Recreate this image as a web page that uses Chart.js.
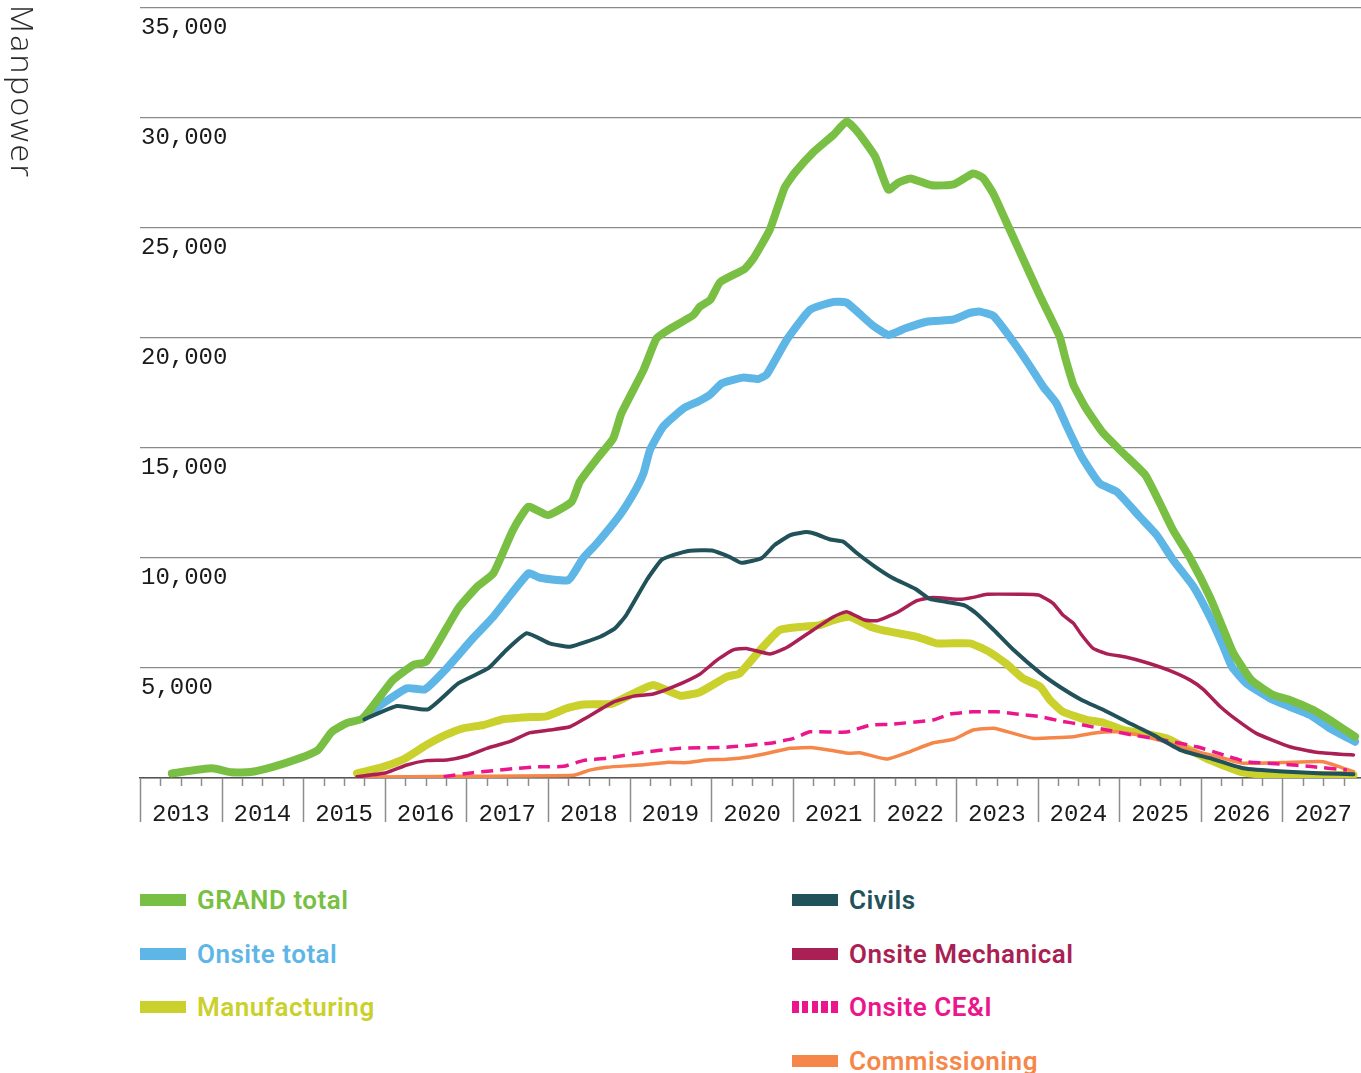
<!DOCTYPE html>
<html>
<head>
<meta charset="utf-8">
<script src="https://cdn.jsdelivr.net/npm/chart.js@4.4.1/dist/chart.umd.min.js"></script>
<style>
html,body{margin:0;padding:0;background:#fff;}
body{width:1361px;height:1073px;position:relative;overflow:hidden;}
#wrap{position:absolute;left:0;top:0;width:1361px;height:840px;}
#ylab{position:absolute;left:5px;top:5px;writing-mode:vertical-rl;font-family:"Open Sans",Roboto,sans-serif;font-weight:300;font-size:32px;letter-spacing:2.5px;line-height:36px;color:#2a2a2a;}
.leg{position:absolute;display:flex;align-items:center;font-family:Roboto,sans-serif;font-weight:600;font-size:26px;letter-spacing:0.5px;height:30px;white-space:nowrap;}
.sw{width:46px;height:12px;margin-right:11px;flex:none;}
</style>
</head>
<body>
<div id="wrap"><canvas id="c"></canvas></div>
<div id="ylab">Manpower</div>
<div id="legend"></div>
<script>
// ---- tick labels ----
const yearLabels = ['2013','2014','2015','2016','2017','2018','2019','2020','2021','2022','2023','2024','2025','2026','2027'];
const yTickValues = [0, 5000, 10000, 15000, 20000, 25000, 30000, 35000];

// ---- series: [decimal year, manpower] ----
const grandTotal = [[2013.39,210],[2013.88,440],[2014.12,260],[2014.35,270],[2014.63,510],[2014.92,850],[2015.18,1270],[2015.35,2100],[2015.53,2490],[2015.73,2710],[2016.10,4450],[2016.35,5140],[2016.51,5290],[2016.90,7710],[2017.13,8690],[2017.33,9300],[2017.57,11270],[2017.76,12330],[2018.00,11950],[2018.29,12560],[2018.39,13470],[2018.62,14600],[2018.80,15440],[2018.90,16580],[2019.17,18540],[2019.33,19980],[2019.47,20360],[2019.78,21040],[2019.86,21420],[2019.99,21740],[2020.11,22540],[2020.41,23140],[2020.52,23630],[2020.72,24940],[2020.90,26840],[2021.03,27540],[2021.25,28440],[2021.50,29240],[2021.66,29840],[2021.80,29340],[2022.01,28240],[2022.17,26740],[2022.29,27050],[2022.44,27250],[2022.70,26940],[2022.97,26980],[2023.21,27480],[2023.33,27280],[2023.46,26540],[2023.62,25240],[2023.78,23940],[2024.03,21900],[2024.27,20060],[2024.34,19080],[2024.44,17860],[2024.58,16880],[2024.79,15740],[2025.03,14830],[2025.32,13770],[2025.50,12480],[2025.66,11270],[2025.87,9990],[2026.11,8240],[2026.28,6730],[2026.40,5670],[2026.62,4450],[2026.89,3770],[2027.09,3550],[2027.38,3090],[2027.58,2640],[2027.89,1880]];

const onsiteTotal = [[2015.73,2710],[2015.86,3090],[2016.27,4080],[2016.49,4030],[2016.76,4990],[2017.08,6350],[2017.33,7330],[2017.76,9300],[2017.90,9100],[2018.25,9000],[2018.43,9990],[2018.60,10670],[2018.88,11950],[2019.05,12940],[2019.17,13850],[2019.25,14910],[2019.41,15970],[2019.66,16800],[2019.86,17150],[2019.99,17440],[2020.13,17940],[2020.39,18200],[2020.58,18140],[2020.68,18340],[2020.93,19940],[2021.21,21280],[2021.50,21640],[2021.66,21600],[2021.97,20600],[2022.17,20140],[2022.38,20440],[2022.64,20740],[2022.97,20840],[2023.17,21140],[2023.29,21200],[2023.46,21000],[2023.70,19840],[2023.91,18700],[2024.07,17780],[2024.23,17030],[2024.36,15970],[2024.54,14600],[2024.76,13390],[2024.97,13010],[2025.25,11880],[2025.46,11040],[2025.66,9910],[2025.91,8700],[2026.11,7330],[2026.26,6120],[2026.38,5060],[2026.56,4300],[2026.85,3620],[2027.09,3240],[2027.34,2860],[2027.58,2260],[2027.89,1650]];

const manufacturing = [[2015.66,210],[2015.98,510],[2016.23,850],[2016.51,1500],[2016.74,1950],[2016.96,2260],[2017.21,2410],[2017.45,2670],[2017.74,2760],[2017.98,2800],[2018.23,3170],[2018.43,3340],[2018.78,3370],[2019.05,3850],[2019.29,4230],[2019.62,3740],[2019.86,3900],[2020.19,4600],[2020.35,4760],[2020.60,5820],[2020.84,6730],[2021.13,6880],[2021.33,6950],[2021.50,7180],[2021.70,7330],[2021.95,6880],[2022.19,6650],[2022.52,6420],[2022.76,6120],[2023.17,6120],[2023.38,5790],[2023.62,5180],[2023.82,4530],[2024.03,4150],[2024.15,3550],[2024.31,3010],[2024.60,2640],[2024.81,2510],[2025.05,2180],[2025.30,2030],[2025.58,1800],[2025.79,1420],[2026.11,820],[2026.48,290],[2026.77,140],[2027.30,140],[2027.87,140]];

const civils = [[2015.75,2670],[2016.15,3270],[2016.53,3120],[2016.90,4300],[2017.27,4990],[2017.49,5820],[2017.74,6580],[2018.02,6120],[2018.27,5970],[2018.64,6420],[2018.82,6800],[2018.96,7410],[2019.21,9000],[2019.39,9910],[2019.54,10140],[2019.74,10330],[2020.01,10340],[2020.23,10040],[2020.37,9780],[2020.62,10000],[2020.78,10600],[2020.97,11040],[2021.17,11180],[2021.29,11080],[2021.46,10840],[2021.62,10740],[2021.78,10240],[2022.01,9600],[2022.23,9080],[2022.50,8600],[2022.68,8140],[2022.89,8000],[2023.11,7840],[2023.25,7480],[2023.46,6740],[2023.70,5840],[2024.03,4780],[2024.27,4150],[2024.54,3550],[2024.81,3090],[2025.09,2560],[2025.42,1950],[2025.75,1270],[2026.11,900],[2026.52,440],[2027.01,290],[2027.50,210],[2027.87,170]];

const onsiteMechanical = [[2015.66,60],[2016.02,240],[2016.27,590],[2016.51,790],[2016.76,820],[2017.00,1000],[2017.25,1350],[2017.53,1650],[2017.78,2060],[2018.02,2180],[2018.27,2330],[2018.47,2740],[2018.80,3450],[2019.05,3720],[2019.29,3820],[2019.54,4150],[2019.86,4720],[2020.07,5360],[2020.27,5820],[2020.43,5890],[2020.72,5640],[2020.93,5940],[2021.25,6730],[2021.50,7330],[2021.66,7560],[2021.88,7180],[2022.03,7150],[2022.27,7510],[2022.52,8060],[2022.72,8210],[2023.05,8120],[2023.21,8210],[2023.38,8350],[2023.78,8350],[2024.01,8320],[2024.19,7940],[2024.31,7410],[2024.44,7030],[2024.54,6500],[2024.68,5890],[2024.85,5640],[2025.09,5490],[2025.34,5240],[2025.62,4880],[2025.87,4450],[2026.03,4030],[2026.24,3240],[2026.44,2640],[2026.68,2030],[2027.09,1420],[2027.42,1170],[2027.71,1080],[2027.87,1050]];

const onsiteCEI = [[2016.72,60],[2017.08,240],[2017.62,440],[2017.90,510],[2018.19,530],[2018.43,790],[2018.72,900],[2019.13,1150],[2019.62,1350],[2020.19,1400],[2020.72,1580],[2021.01,1800],[2021.21,2100],[2021.66,2090],[2021.95,2410],[2022.19,2440],[2022.72,2640],[2022.93,2910],[2023.21,3010],[2023.50,3010],[2023.74,2910],[2024.03,2790],[2024.27,2600],[2024.56,2410],[2024.85,2180],[2025.17,1950],[2025.54,1730],[2025.95,1420],[2026.28,1050],[2026.56,740],[2026.97,640],[2027.38,510],[2027.79,360]];

const commissioning = [[2015.66,40],[2017.00,80],[2018.31,120],[2018.51,360],[2018.72,490],[2019.13,590],[2019.45,710],[2019.70,700],[2019.94,820],[2020.19,850],[2020.48,970],[2020.72,1150],[2020.97,1350],[2021.25,1380],[2021.50,1240],[2021.70,1120],[2021.82,1150],[2022.15,860],[2022.40,1150],[2022.72,1600],[2022.97,1760],[2023.21,2180],[2023.46,2260],[2023.70,2030],[2023.95,1800],[2024.44,1880],[2024.72,2060],[2024.97,2100],[2025.25,1950],[2025.62,1580],[2025.95,1200],[2026.28,900],[2026.52,670],[2027.01,700],[2027.50,740],[2027.75,440],[2027.87,290]];

// ---- styling ----
const series = [
  {label:'GRAND total', data:grandTotal, color:'#79bf43', width:8, order:4, slot:[0,0]},
  {label:'Onsite total', data:onsiteTotal, color:'#5db6e6', width:8, order:5, slot:[0,1]},
  {label:'Manufacturing', data:manufacturing, color:'#cad02c', width:8, order:6, slot:[0,2]},
  {label:'Civils', data:civils, color:'#21525a', width:4, order:0, slot:[1,0]},
  {label:'Onsite Mechanical', data:onsiteMechanical, color:'#aa1f54', width:3.5, order:1, slot:[1,1]},
  {label:'Onsite CE&I', data:onsiteCEI, color:'#ec168c', width:3.5, order:2, slot:[1,2], dash:[12,7]},
  {label:'Commissioning', data:commissioning, color:'#f5874a', width:3.5, order:3, slot:[1,3]}
];

const firstYear = parseInt(yearLabels[0], 10);

const yearTicks = {
  id: 'yearTicks',
  afterDraw(chart) {
    const xs = chart.scales.x, ctx = chart.ctx, y0 = chart.chartArea.bottom;
    ctx.save();
    ctx.strokeStyle = '#8c8c8c';
    ctx.lineWidth = 1.5;
    for (let q = 0; q < yearLabels.length * 4; q++) {
      const px = Math.round(xs.getPixelForValue(firstYear + q / 4)) + 0.5;
      const len = q % 4 === 0 ? 44 : 8;
      ctx.beginPath();
      ctx.moveTo(px, y0);
      ctx.lineTo(px, y0 + len);
      ctx.stroke();
    }
    ctx.restore();
  }
};

new Chart(document.getElementById('c'), {
  type: 'line',
  data: {
    datasets: series.map(s => ({
      label: s.label,
      data: s.data.map(([x, y]) => ({x, y})),
      borderColor: s.color,
      backgroundColor: s.color,
      borderWidth: s.width,
      borderDash: s.dash || [],
      borderJoinStyle: 'round',
      borderCapStyle: s.dash ? 'butt' : 'round',
      pointRadius: 0,
      tension: 0.15,
      fill: false,
      order: s.order
    }))
  },
  options: {
    responsive: true,
    maintainAspectRatio: false,
    animation: false,
    events: [],
    layout: {padding: {top: 8, right: 0, bottom: 0, left: 0}},
    plugins: {legend: {display: false}, tooltip: {enabled: false}},
    scales: {
      x: {
        type: 'linear',
        min: firstYear,
        max: 2027.963,
        afterBuildTicks: (scale) => { scale.ticks = yearLabels.map((l, i) => ({value: firstYear + i + 0.5})); },
        afterFit: (scale) => { scale.height = 62; scale.paddingLeft = 0; scale.paddingRight = 0; },
        grid: {display: true, drawOnChartArea: false, drawTicks: false, color: 'rgba(0,0,0,0)'},
        border: {display: true, color: '#555', width: 1.5},
        ticks: {
          autoSkip: false, maxRotation: 0, minRotation: 0, padding: 22,
          color: '#1a1a1a',
          font: {family: "'Liberation Mono', 'DejaVu Sans Mono', monospace", size: 24},
          callback: (v) => yearLabels[Math.floor(v - firstYear)]
        }
      },
      y: {
        min: yTickValues[0],
        max: yTickValues[yTickValues.length - 1],
        afterBuildTicks: (scale) => { scale.ticks = yTickValues.map(v => ({value: v})); },
        afterFit: (scale) => { scale.width = 140; scale.paddingTop = 0; scale.paddingBottom = 0; },
        grid: {color: '#8a8a8a', lineWidth: 1.3, drawTicks: false},
        border: {display: false},
        ticks: {
          mirror: true, padding: 1, labelOffset: 20,
          color: '#1a1a1a',
          font: {family: "'Liberation Mono', 'DejaVu Sans Mono', monospace", size: 24},
          callback: (v) => v === 0 ? '' : v.toLocaleString('en-US')
        }
      }
    }
  },
  plugins: [yearTicks]
});

// ---- legend (HTML, real text) ----
const legend = document.getElementById('legend');
const colX = [140, 792], rowY = [900, 954, 1007, 1061];
series.forEach(s => {
  const d = document.createElement('div');
  d.className = 'leg';
  d.style.left = colX[s.slot[0]] + 'px';
  d.style.top = (rowY[s.slot[1]] - 15) + 'px';
  d.style.color = s.color;
  const sw = document.createElement('span');
  sw.className = 'sw';
  sw.style.background = s.dash
    ? `repeating-linear-gradient(90deg, ${s.color} 0 6.5px, transparent 6.5px 9.8px)`
    : s.color;
  const t = document.createElement('span');
  t.textContent = s.label;
  d.appendChild(sw); d.appendChild(t);
  legend.appendChild(d);
});
</script>
</body>
</html>
